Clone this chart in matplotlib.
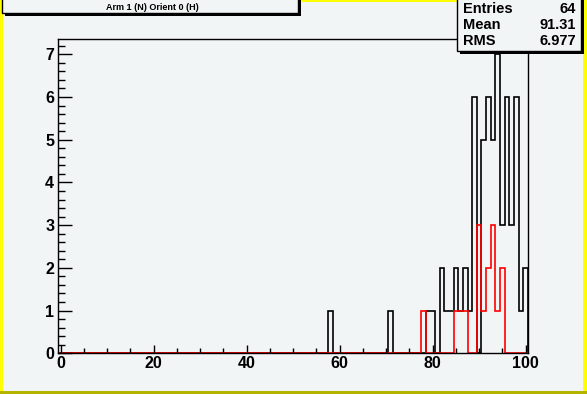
import matplotlib
matplotlib.use("Agg")
import matplotlib.pyplot as plt
from matplotlib.patches import Rectangle
import numpy as np

# histogram contents (bin centre -> entries), 101 bins of width 1 from -0.5 to 100.5
black_bins = [58, 71, 79, 80, 82, 83, 84, 85, 86, 87, 88, 89, 91, 92, 93, 94, 95, 96, 97, 98, 99, 100]
black_counts = [1, 1, 1, 1, 2, 1, 1, 2, 1, 2, 1, 6, 5, 6, 5, 7, 3, 6, 3, 6, 1, 2]
red_bins = [78, 85, 86, 87, 90, 91, 92, 93, 94, 95]
red_counts = [1, 1, 1, 1, 3, 1, 2, 3, 1, 2]

title = "Arm 1 (N) Orient 0 (H)"
stats = [("Entries", "64"), ("Mean", "91.31"), ("RMS", "6.977")]

W, H = 587, 394
BG = "#f2f5f5"
plt.rcParams['font.family'] = ['Liberation Sans', 'DejaVu Sans']
plt.rcParams['font.weight'] = 'bold'

fig = plt.figure(figsize=(W / 100, H / 100), dpi=100, facecolor="#ffff00")


def box(x0, y0, x1, y1, **kw):
    # rectangle in pixel coords measured from the top-left corner
    fig.add_artist(Rectangle((x0 / W, 1 - y1 / H), (x1 - x0) / W, (y1 - y0) / H,
                             transform=fig.transFigure, **kw))


# canvas border: yellow top/left/right, olive bottom
box(3, 2, 583, 391, facecolor=BG, edgecolor="none", zorder=0)
box(0, 391, W, H, facecolor="#b4b400", edgecolor="none", zorder=0)

edges = np.arange(-0.5, 101.5, 1.0)
black = np.zeros(101)
black[black_bins] = black_counts
red = np.zeros(101)
red[red_bins] = red_counts

ax = fig.add_axes([58.3 / W, 1 - 353.3 / H, 469.7 / W, 314 / H])
ax.set_facecolor(BG)
ax.stairs(black, edges, color="black", linewidth=1.2, baseline=0)
ax.stairs(red, edges, color="red", linewidth=1.2, baseline=0)

ax.set_xlim(-0.5, 100.5)
ax.set_ylim(0, 7.35)
ax.set_xticks(np.arange(0, 101, 20))
ax.set_xticks(np.arange(0, 101, 5), minor=True)
ax.set_yticks(np.arange(0, 8, 1))
ax.set_yticks(np.arange(0, 7.3, 0.2), minor=True)
ax.tick_params(axis="x", which="major", direction="in", length=6, width=1, pad=2, labelsize=11.5)
ax.tick_params(axis="x", which="minor", direction="in", length=3.5, width=1)
ax.tick_params(axis="y", which="major", direction="in", length=10, width=1, pad=3, labelsize=11.5)
ax.tick_params(axis="y", which="minor", direction="in", length=5, width=1)
for lab in ax.get_xticklabels() + ax.get_yticklabels():
    lab.set_fontweight("bold")
for s in ax.spines.values():
    s.set_linewidth(1)

# title box at the top-left
box(5, -5, 301, 16, facecolor="black", edgecolor="none", zorder=5)
box(2, -5, 298, 13, facecolor=BG, edgecolor="black", linewidth=1, zorder=6)
fig.text(152 / W, 1 - 7 / H, title, ha="center", va="center",
         fontsize=6.5, fontweight="bold", zorder=7)

# stats box at the top-right
box(460, -5, 584, 54, facecolor="black", edgecolor="none", zorder=5)
box(457, -5, 581, 51, facecolor=BG, edgecolor="black", linewidth=1, zorder=6)
for i, (name, val) in enumerate(stats):
    y = 1 - (9 + 16 * i) / H
    fig.text(463 / W, y, name, ha="left", va="center", fontsize=10.5, fontweight="bold", zorder=7)
    fig.text(576 / W, y, val, ha="right", va="center", fontsize=10.5, fontweight="bold", zorder=7)

fig.savefig("out.png", dpi=100, facecolor=fig.get_facecolor())
